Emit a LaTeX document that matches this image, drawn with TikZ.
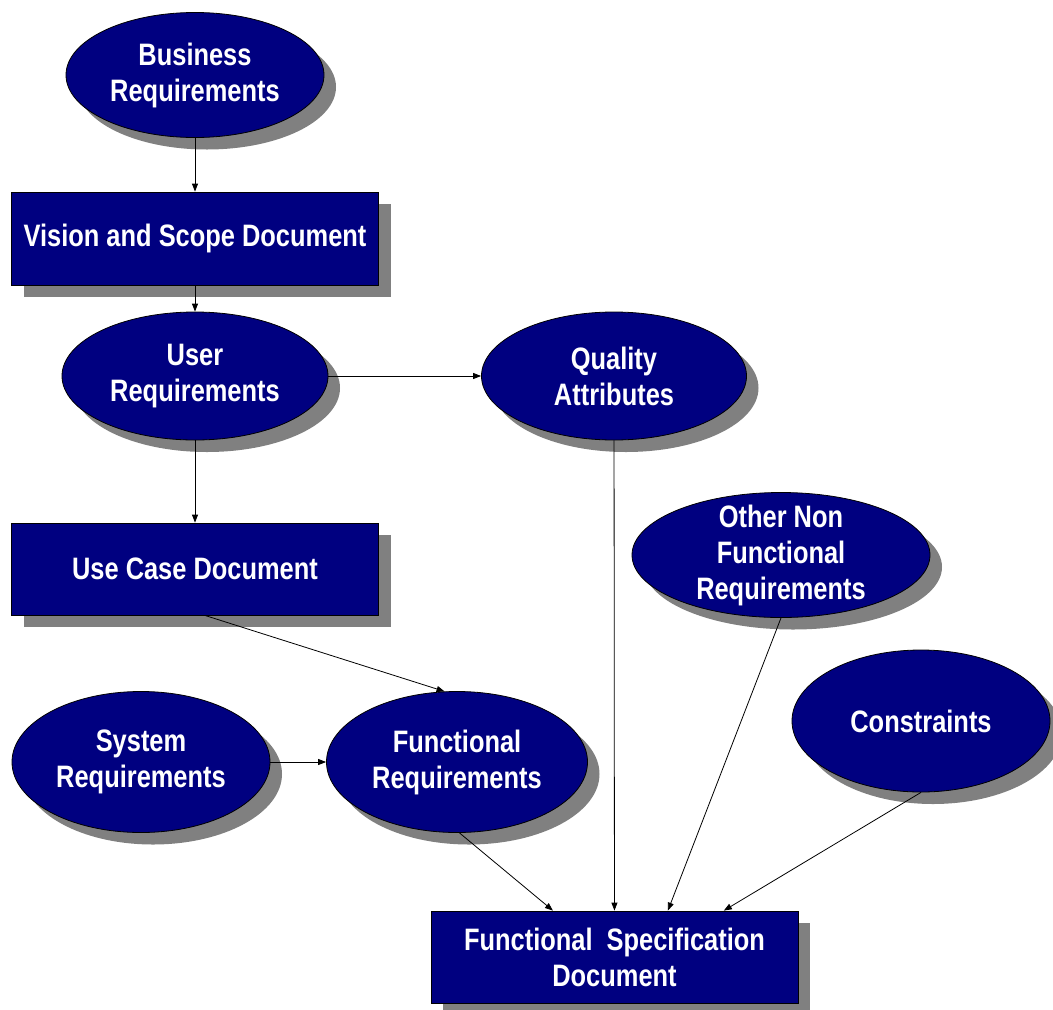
\documentclass[tikz,border=0pt]{standalone}
\usepackage{fontspec}
\newfontfamily\diagfont[FakeStretch=0.82]{Liberation Sans}
\usetikzlibrary{shapes.geometric,shadows,arrows.meta}
\definecolor{navyfill}{RGB}{0,0,128}
\definecolor{shadowgray}{RGB}{128,128,128}
\begin{document}
\begin{tikzpicture}[x=1pt,y=-1pt,
    font=\diagfont\bfseries\fontsize{31}{36}\selectfont,
    blob/.style={ellipse, draw=black, line width=0.8pt, fill=navyfill, text=white,
        align=center, inner sep=0pt,
        drop shadow={shadow xshift=12pt, shadow yshift=-12pt, fill=shadowgray, opacity=1}},
    docbox/.style={rectangle, draw=black, line width=0.8pt, fill=navyfill, text=white,
        align=center, inner sep=0pt, minimum width=367pt, minimum height=92pt,
        drop shadow={shadow xshift=12pt, shadow yshift=-12pt, fill=shadowgray, opacity=1}},
    link/.style={draw=black, line width=0.8pt, -{Triangle[length=8pt,width=6pt]}}]
    \path[fill=white] (0,0) rectangle (1053,1010);

    % Left column
    \node[blob, minimum width=258pt, minimum height=125pt] (biz) at (195,75) {Business\\Requirements};
    \node[docbox, minimum height=93pt] (vision) at (195,238.5) {Vision and Scope Document};
    \node[blob, minimum width=266pt, minimum height=128pt] (user) at (195,376) {User\\Requirements};
    \node[docbox] (usecase) at (195,569) {Use Case Document};

    % Middle and right
    \node[blob, minimum width=265pt, minimum height=128pt] (quality) at (614,376) {Quality\\Attributes};
    \node[blob, minimum width=298pt, minimum height=125pt, inner ysep=-14pt] (other) at (781,555) {Other Non\\Functional\\Requirements};
    \node[blob, minimum width=258pt, minimum height=142pt] (cons) at (921,721) {Constraints};
    \node[blob, minimum width=258pt, minimum height=141pt] (sys) at (141,762) {System\\Requirements};
    \node[blob, minimum width=261pt, minimum height=141pt] (func) at (457,762) {Functional\\Requirements};
    \node[docbox] (fs) at (614.5,957) {Functional~ Specification\\Document};

    % Arrows
    \draw[link] (biz) -- (vision);
    \draw[link] (vision) -- (user);
    \draw[link] (user) -- (quality);
    \draw[link] (user) -- (usecase);
    \draw[link] (usecase.-78) -- (func.100);
    \draw[link] (sys) -- (func);
    \draw[link] (func.-88) -- (fs.143);
    \draw[link] (quality) -- (fs);
    \draw[link] (other.south) -- (fs.41);
    \draw[link] (cons.south) -- (fs.23);
\end{tikzpicture}
\end{document}
